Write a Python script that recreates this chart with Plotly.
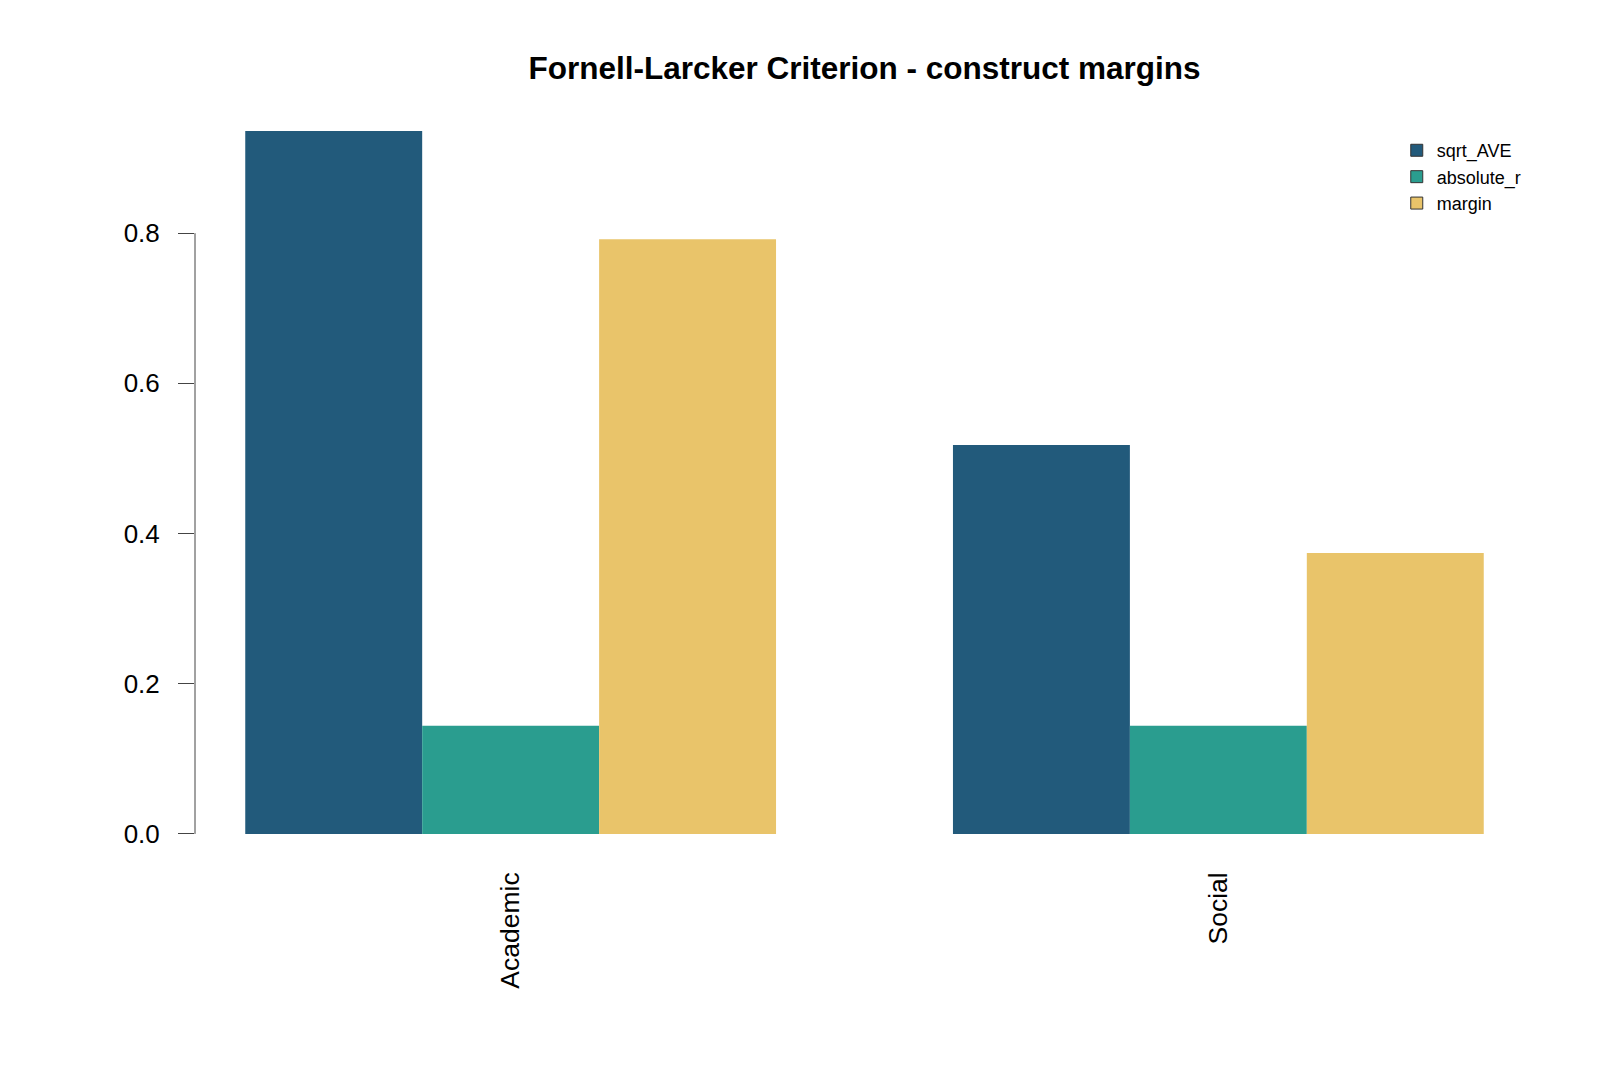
import plotly.graph_objects as go

categories = ["Academic", "Social"]
series_names = ["sqrt_AVE", "absolute_r", "margin"]
sqrt_AVE = [0.936, 0.518]
absolute_r = [0.144, 0.144]
margin = [0.792, 0.374]
colors = ["#225A7B", "#2A9D8F", "#E9C46A"]
y_ticks = [0.0, 0.2, 0.4, 0.6, 0.8]

series = [sqrt_AVE, absolute_r, margin]
fig = go.Figure()
n = len(series)
bw = 0.25
for j, (name, vals, col) in enumerate(zip(series_names, series, colors)):
    fig.add_trace(go.Bar(
        x=categories, y=vals, name=name, width=bw, offset=-bw * n / 2 + j * bw,
        marker=dict(color=col, line=dict(width=0)), showlegend=False,
    ))
for name, col in zip(series_names, colors):
    fig.add_trace(go.Bar(
        x=[None], y=[None], name=name,
        marker=dict(color=col, line=dict(color="#333333", width=1)),
        showlegend=True,
    ))

fig.add_shape(type="line", xref="paper", yref="y", x0=0, x1=0, y0=0, y1=0.8,
              line=dict(color="#444444", width=1))

fig.update_layout(
    width=1600, height=1067,
    barmode="overlay",
    plot_bgcolor="white", paper_bgcolor="white",
    margin=dict(l=195, r=66, t=103, b=204.5),
    font=dict(family="Liberation Sans, Arial, sans-serif", color="black"),
    title=dict(text="<b>Fornell-Larcker Criterion - construct margins</b>",
               x=0.5, xref="paper", xanchor="center",
               y=1 - 67.5 / 1067, yref="container", yanchor="middle",
               font=dict(size=31.5, color="black")),
    xaxis=dict(range=[-0.446, 1.446], showline=False, showgrid=False, zeroline=False,
               ticks="", tickangle=-90, tickfont=dict(size=26.5), ticklabelstandoff=4),
    yaxis=dict(range=[-0.0374, 0.9734], tickvals=y_ticks, tickformat=".1f",
               showline=False, showgrid=False, zeroline=False,
               ticks="outside", ticklen=16, tickcolor="#444444", tickwidth=1,
               tickfont=dict(size=26), ticklabelstandoff=13),
    legend=dict(x=0.8975, y=0.9617, xanchor="left", yanchor="top",
                font=dict(size=18), bgcolor="rgba(0,0,0,0)", tracegroupgap=0),
)

fig.write_html("out.html", config={"displayModeBar": False},
               post_script="document.body.style.margin='0';document.body.style.overflow='hidden';")
